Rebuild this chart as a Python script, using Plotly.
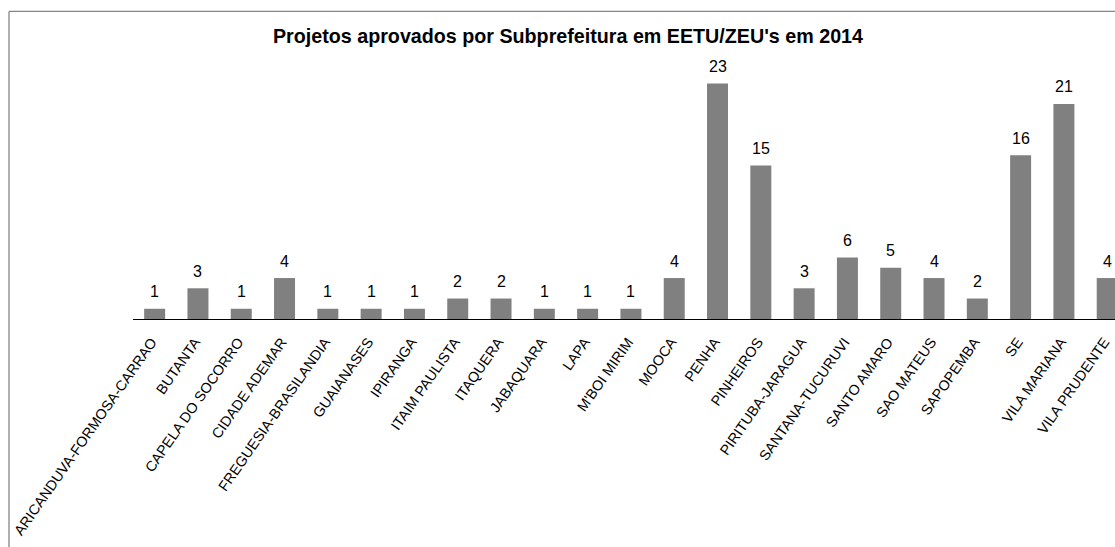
import plotly.graph_objects as go

categories = [
    "ARICANDUVA-FORMOSA-CARRAO", "BUTANTA", "CAPELA DO SOCORRO", "CIDADE ADEMAR",
    "FREGUESIA-BRASILANDIA", "GUAIANASES", "IPIRANGA", "ITAIM PAULISTA", "ITAQUERA",
    "JABAQUARA", "LAPA", "M'BOI MIRIM", "MOOCA", "PENHA", "PINHEIROS",
    "PIRITUBA-JARAGUA", "SANTANA-TUCURUVI", "SANTO AMARO", "SAO MATEUS",
    "SAPOPEMBA", "SE", "VILA MARIANA", "VILA PRUDENTE",
]
values = [1, 3, 1, 4, 1, 1, 1, 2, 2, 1, 1, 1, 4, 23, 15, 3, 6, 5, 4, 2, 16, 21, 4]
title_text = "Projetos aprovados por Subprefeitura em EETU/ZEU's em 2014"

W, H = 1115, 547
L, R, T, B = 133, 0, 62.7, 227.6
pw, ph = W - L - R, H - T - B

FONT = "Arial, Liberation Sans, sans-serif"

fig = go.Figure(go.Bar(
    x=categories, y=values,
    marker=dict(color="#808080", line=dict(width=0)),
    cliponaxis=False, width=0.485, hoverinfo="skip",
))

for c, v in zip(categories, values):
    fig.add_annotation(x=c, y=v, text=str(v), showarrow=False, yanchor="middle",
                       yshift=17, font=dict(family=FONT, size=16, color="black"))

bx = (9 - L) / pw
by = 1 + (T - 11) / ph
fig.add_shape(type="line", xref="paper", yref="paper", x0=bx, x1=bx, y0=-2, y1=by,
              line=dict(color="#858585", width=1.3))
fig.add_shape(type="line", xref="paper", yref="paper", x0=bx, x1=1.2, y0=by, y1=by,
              line=dict(color="#858585", width=1.3))

fig.update_layout(
    width=W, height=H,
    margin=dict(l=L, r=R, t=T, b=B, autoexpand=False),
    paper_bgcolor="white", plot_bgcolor="white",
    showlegend=False,
    title=dict(text="<b>" + title_text + "</b>", x=568 / W, xref="container", xanchor="center",
               y=1 - 36 / H, yref="container", yanchor="middle",
               font=dict(family=FONT, size=19.7, color="black")),
    xaxis=dict(range=[-0.5, 22.18], showgrid=False, showline=True, linecolor="black",
               linewidth=1, ticks="", tickangle=-55, ticklabelstandoff=8, ticklabelshift=-3,
               tickfont=dict(family=FONT, size=14.4, color="black")),
    yaxis=dict(range=[0, 25], visible=False),
)

fig.write_html(
    "out.html",
    config={"displayModeBar": False},
    post_script="document.body.style.margin='0';document.body.style.overflow='hidden';",
)
